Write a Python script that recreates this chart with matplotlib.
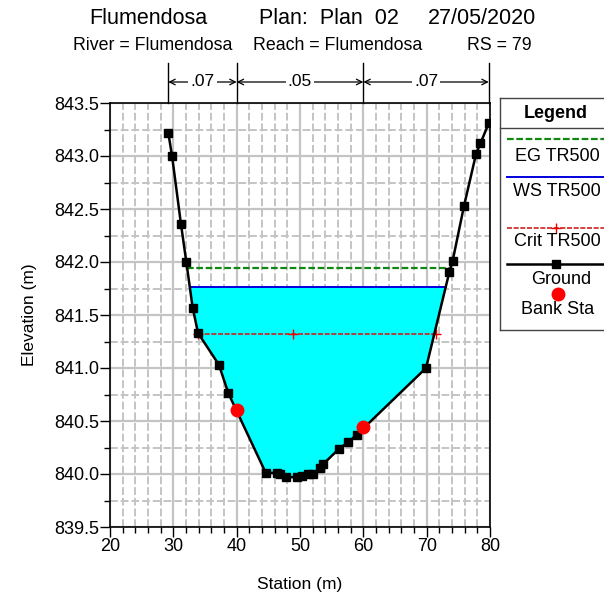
import numpy as np
import matplotlib.pyplot as plt
from matplotlib.lines import Line2D
from matplotlib.ticker import MultipleLocator, FormatStrFormatter
import matplotlib.transforms as mtransforms

plt.rcParams['font.family'] = ['Liberation Sans', 'DejaVu Sans']

# ground geometry (station, elevation)
station = [29.2, 29.8, 31.2, 32.05, 33.05, 33.9, 37.2, 38.7, 44.6, 46.3, 46.8, 47.8,
           49.6, 50.3, 51.3, 52.1, 53.2, 53.6, 56.2, 57.6, 58.95, 69.9, 73.6, 74.1,
           75.9, 77.8, 78.5, 79.8]
elevation = [843.22, 843.0, 842.36, 842.0, 841.57, 841.33, 841.03, 840.76, 840.01, 840.01,
             840.0, 839.97, 839.97, 839.98, 840.0, 840.0, 840.06, 840.09, 840.24, 840.3,
             840.37, 841.0, 841.91, 842.01, 842.53, 843.02, 843.12, 843.31]
bank_sta = [40.0, 59.9]
bank_elev = [840.6, 840.44]
eg_elev = 841.94
ws_elev = 841.76
crit_elev = 841.32
crit_sta = [33.9, 48.9, 71.5]
mann_sta = [29.2, 40.0, 60.0, 79.8]
mann_n = ['.07', '.05', '.07']

W, H = 604, 598
fig = plt.figure(figsize=(W / 100, H / 100), dpi=100)
ax = fig.add_axes([110 / W, 1 - 527 / H, 380 / W, 424 / H])

st = np.array(station)
el = np.array(elevation)


def wet_span(level):
    # where a level meets the left and right banks
    lo = int(np.argmin(el))
    left = np.interp(level, el[:lo + 1][::-1], st[:lo + 1][::-1])
    right = np.interp(level, el[lo:], st[lo:])
    return left, right


# water fill
xf = np.linspace(st[0], st[-1], 2000)
gf = np.interp(xf, st, el)
ax.fill_between(xf, gf, ws_elev, where=gf < ws_elev, color='#00ffff', lw=0, zorder=2)

eg_l, eg_r = wet_span(eg_elev)
ws_l, ws_r = wet_span(ws_elev)
ax.plot([eg_l, eg_r], [eg_elev] * 2, color='#118811', ls=(0, (3, 1.2)), lw=1.6, zorder=3)
ax.plot([ws_l, ws_r], [ws_elev] * 2, color='#0000dd', lw=1.4, zorder=3)
ax.plot([crit_sta[0], crit_sta[-1]], [crit_elev] * 2, color='#cc2222', ls=(0, (3, 1)),
        lw=1.2, zorder=3)
ax.plot(crit_sta, [crit_elev] * len(crit_sta), ls='none', marker='+', color='#ee0000',
        ms=7, mew=1, zorder=3)

ax.plot(station, elevation, color='black', lw=1.8, marker='s', ms=5.5, zorder=4)
ax.plot(bank_sta, bank_elev, ls='none', marker='o', color='#ff0000', ms=9, zorder=5)

ax.set_xlim(20, 80)
ax.set_ylim(839.5, 843.5)
ax.xaxis.set_major_locator(MultipleLocator(10))
ax.xaxis.set_minor_locator(MultipleLocator(2))
ax.yaxis.set_major_locator(MultipleLocator(0.5))
ax.yaxis.set_minor_locator(MultipleLocator(0.25))
ax.yaxis.set_major_formatter(FormatStrFormatter('%.1f'))
ax.grid(which='major', color='#c4c4c4', lw=1.6, ls='-', zorder=0)
ax.grid(which='minor', color='#c4c4c4', lw=1.4, ls=(0, (4, 1.5)), zorder=0)
ax.set_axisbelow(True)
ax.tick_params(which='major', direction='out', length=7, width=1, labelsize=13, pad=1)
ax.tick_params(which='minor', direction='out', length=4, width=1)
for sp in ax.spines.values():
    sp.set_linewidth(1.2)

ax.set_xlabel('Station (m)', fontsize=12.5, labelpad=16)
ax.set_ylabel('Elevation (m)', fontsize=12.5, labelpad=12)

# Manning's n brackets above the plot
trans = mtransforms.blended_transform_factory(ax.transData, ax.transAxes)
top = 1 + 40 / 424
arr_y = 1 + 21 / 424
for s in mann_sta:
    ax.plot([s, s], [1, top], color='black', lw=1, transform=trans, clip_on=False)
for i, n in enumerate(mann_n):
    x0, x1 = mann_sta[i], mann_sta[i + 1]
    ax.annotate('', xy=(x1, arr_y), xytext=(x0, arr_y), xycoords=trans, textcoords=trans,
                arrowprops=dict(arrowstyle='<->', color='black', lw=0.9,
                                shrinkA=0, shrinkB=0, mutation_scale=10))
    ax.text((x0 + x1) / 2, arr_y, n, transform=trans, ha='center', va='center',
            fontsize=12.5, bbox=dict(fc='white', ec='none', pad=1.5))

# titles
fig.text(89 / W, 1 - 18 / H, 'Flumendosa', fontsize=15.5, va='center', ha='left')
fig.text(259 / W, 1 - 18 / H, 'Plan:  Plan  02', fontsize=15.5, va='center', ha='left')
fig.text(428 / W, 1 - 18 / H, '27/05/2020', fontsize=15.5, va='center', ha='left')
fig.text(73 / W, 1 - 46 / H, 'River = Flumendosa', fontsize=12.8, va='center', ha='left')
fig.text(253 / W, 1 - 46 / H, 'Reach = Flumendosa', fontsize=12.8, va='center', ha='left')
fig.text(467 / W, 1 - 46 / H, 'RS = 79', fontsize=12.8, va='center', ha='left')


# legend box (manual, runs off the right edge like the original)
def fx(px):
    return px / W


def fy(py):
    return 1 - py / H


fig.add_artist(Line2D([fx(500), fx(500)], [fy(98), fy(330)], color='#444444', lw=1))
fig.add_artist(Line2D([fx(500), fx(620)], [fy(98), fy(98)], color='#444444', lw=1))
fig.add_artist(Line2D([fx(500), fx(620)], [fy(330), fy(330)], color='#444444', lw=1))
fig.add_artist(Line2D([fx(500), fx(620)], [fy(128), fy(128)], color='#444444', lw=1))
fig.text(fx(556), fy(113), 'Legend', fontsize=13, fontweight='bold', ha='center', va='center')

lx = [fx(507), fx(610)]
fig.add_artist(Line2D(lx, [fy(139)] * 2, color='#118811', ls=(0, (3, 1.2)), lw=1.6))
fig.text(fx(557), fy(156), 'EG TR500', fontsize=13, ha='center', va='center')
fig.add_artist(Line2D(lx, [fy(177)] * 2, color='#0000dd', lw=1.4))
fig.text(fx(557), fy(192), 'WS TR500', fontsize=13, ha='center', va='center')
fig.add_artist(Line2D(lx, [fy(228)] * 2, color='#cc2222', ls=(0, (3, 1)), lw=1.2))
fig.add_artist(Line2D([fx(556)], [fy(228)], ls='none', marker='+', color='#ee0000', ms=7))
fig.text(fx(557), fy(242), 'Crit TR500', fontsize=13, ha='center', va='center')
fig.add_artist(Line2D(lx, [fy(264)] * 2, color='black', lw=1.8))
fig.add_artist(Line2D([fx(556)], [fy(264)], ls='none', marker='s', color='black', ms=5.5))
fig.text(fx(561), fy(279), 'Ground', fontsize=13, ha='center', va='center')
fig.add_artist(Line2D([fx(558)], [fy(294)], ls='none', marker='o', color='#ff0000', ms=9))
fig.text(fx(558), fy(310), 'Bank Sta', fontsize=13, ha='center', va='center')

fig.savefig('out.png', dpi=100)
